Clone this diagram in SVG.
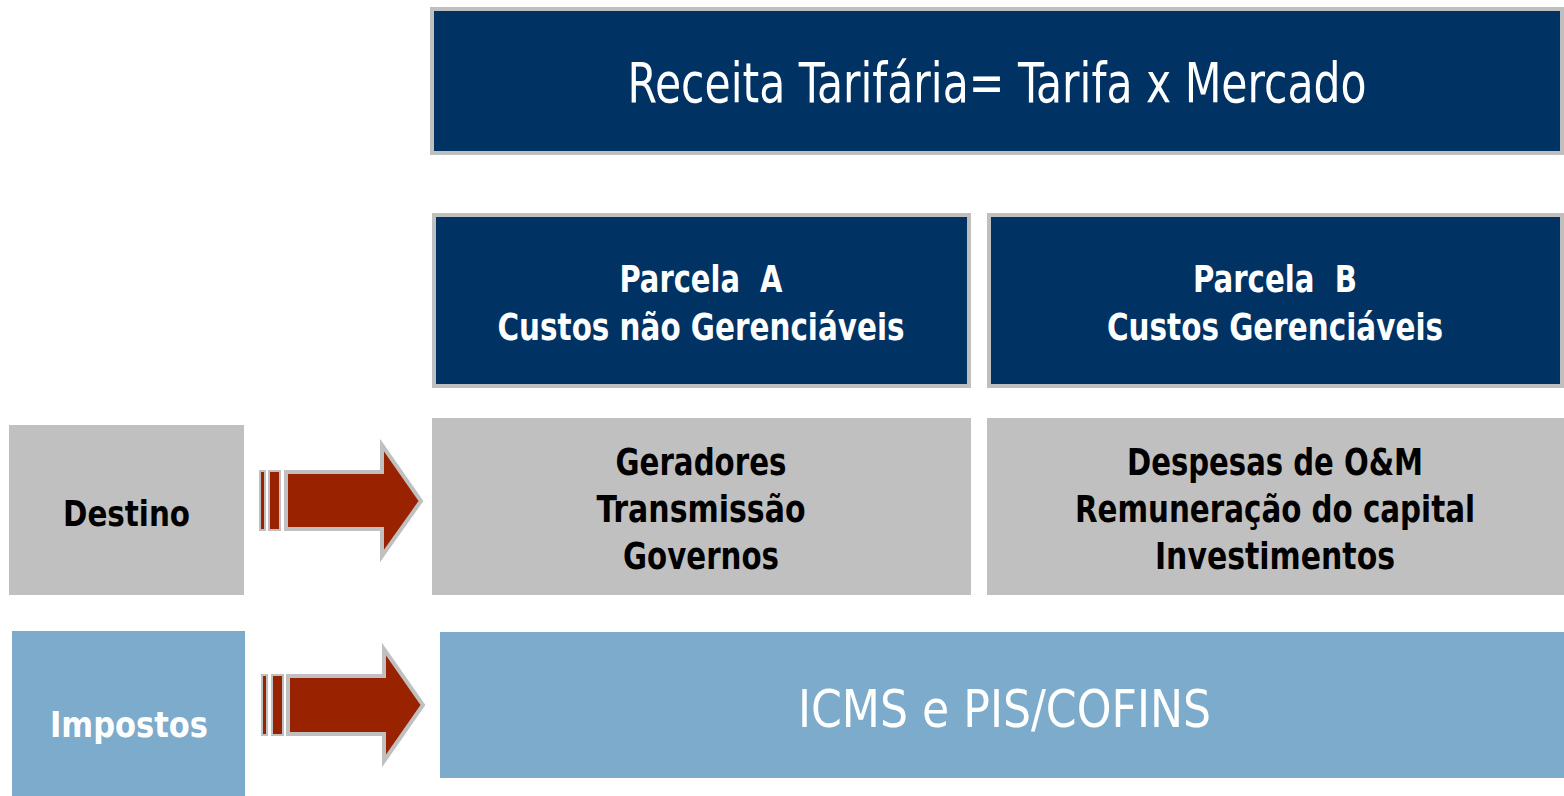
<svg xmlns="http://www.w3.org/2000/svg" width="1564" height="796" viewBox="0 0 1564 796">
<style>
.navy{fill:#003264;stroke:#bfbfbf;stroke-width:4}
.gray{fill:#c0c0c0}
.blue{fill:#7dabcb}
.arrow{fill:#992200;stroke:#c0c0c0;stroke-width:4;stroke-linejoin:miter}
.bar{fill:#992200;stroke:#c0c0c0;stroke-width:2}
text{font-family:"DejaVu Sans Condensed","DejaVu Sans","Liberation Sans",sans-serif;text-anchor:middle}
.w{fill:#ffffff}
.k{fill:#000000}
.b{font-weight:bold;font-size:38px}
</style>
<rect width="1564" height="796" fill="#ffffff"/>
<g id="receita">
<rect class="navy" x="432" y="9" width="1130" height="144"/>
<text class="w" x="997" y="102" font-size="56" textLength="739" lengthAdjust="spacingAndGlyphs">Receita Tarifária= Tarifa x Mercado</text>
</g>
<g id="parcelaA">
<rect class="navy" x="434" y="215" width="535" height="171"/>
<text class="w b" x="701" y="292" textLength="163" lengthAdjust="spacingAndGlyphs" xml:space="preserve">Parcela  A</text>
<text class="w b" x="701" y="340" textLength="407" lengthAdjust="spacingAndGlyphs">Custos não Gerenciáveis</text>
</g>
<g id="parcelaB">
<rect class="navy" x="989" y="215" width="573" height="171"/>
<text class="w b" x="1275" y="292" textLength="164" lengthAdjust="spacingAndGlyphs" xml:space="preserve">Parcela  B</text>
<text class="w b" x="1275" y="340" textLength="336" lengthAdjust="spacingAndGlyphs">Custos Gerenciáveis</text>
</g>
<g id="destinoA">
<rect class="gray" x="432" y="418" width="539" height="177"/>
<text class="k b" x="701" y="475" textLength="171" lengthAdjust="spacingAndGlyphs">Geradores</text>
<text class="k b" x="701" y="522" textLength="209" lengthAdjust="spacingAndGlyphs">Transmissão</text>
<text class="k b" x="701" y="569" textLength="156" lengthAdjust="spacingAndGlyphs">Governos</text>
</g>
<g id="destinoB">
<rect class="gray" x="987" y="418" width="577" height="177"/>
<text class="k b" x="1275" y="475" textLength="296" lengthAdjust="spacingAndGlyphs">Despesas de O&amp;M</text>
<text class="k b" x="1275" y="522" textLength="400" lengthAdjust="spacingAndGlyphs">Remuneração do capital</text>
<text class="k b" x="1275" y="569" textLength="240" lengthAdjust="spacingAndGlyphs">Investimentos</text>
</g>
<g id="destino">
<rect class="gray" x="9" y="425" width="235" height="170"/>
<text class="k" x="126.5" y="526" font-size="36" font-weight="bold" textLength="127" lengthAdjust="spacingAndGlyphs">Destino</text>
</g>
<g id="impostos">
<rect class="blue" x="12" y="631" width="233" height="165"/>
<text class="w" x="129" y="737" font-size="36" font-weight="bold" textLength="158" lengthAdjust="spacingAndGlyphs">Impostos</text>
</g>
<g id="icms">
<rect class="blue" x="440" y="632" width="1124" height="146"/>
<text class="w" x="1004.5" y="727" font-size="52" textLength="413" lengthAdjust="spacingAndGlyphs">ICMS e PIS/COFINS</text>
</g>
<g id="connectors">
<g id="arrow1">
<rect class="bar" x="260" y="471" width="5" height="59"/>
<rect class="bar" x="269" y="471" width="11" height="59"/>
<polygon class="arrow" points="286,472 382,472 382,445 421,501 382,556 382,529 286,529"/>
</g>
<g id="arrow2">
<rect class="bar" x="262" y="675" width="5" height="60"/>
<rect class="bar" x="272" y="675" width="11" height="60"/>
<polygon class="arrow" points="288,676 384,676 384,649 423,705 384,761 384,734 288,734"/>
</g>
</g>
</svg>
